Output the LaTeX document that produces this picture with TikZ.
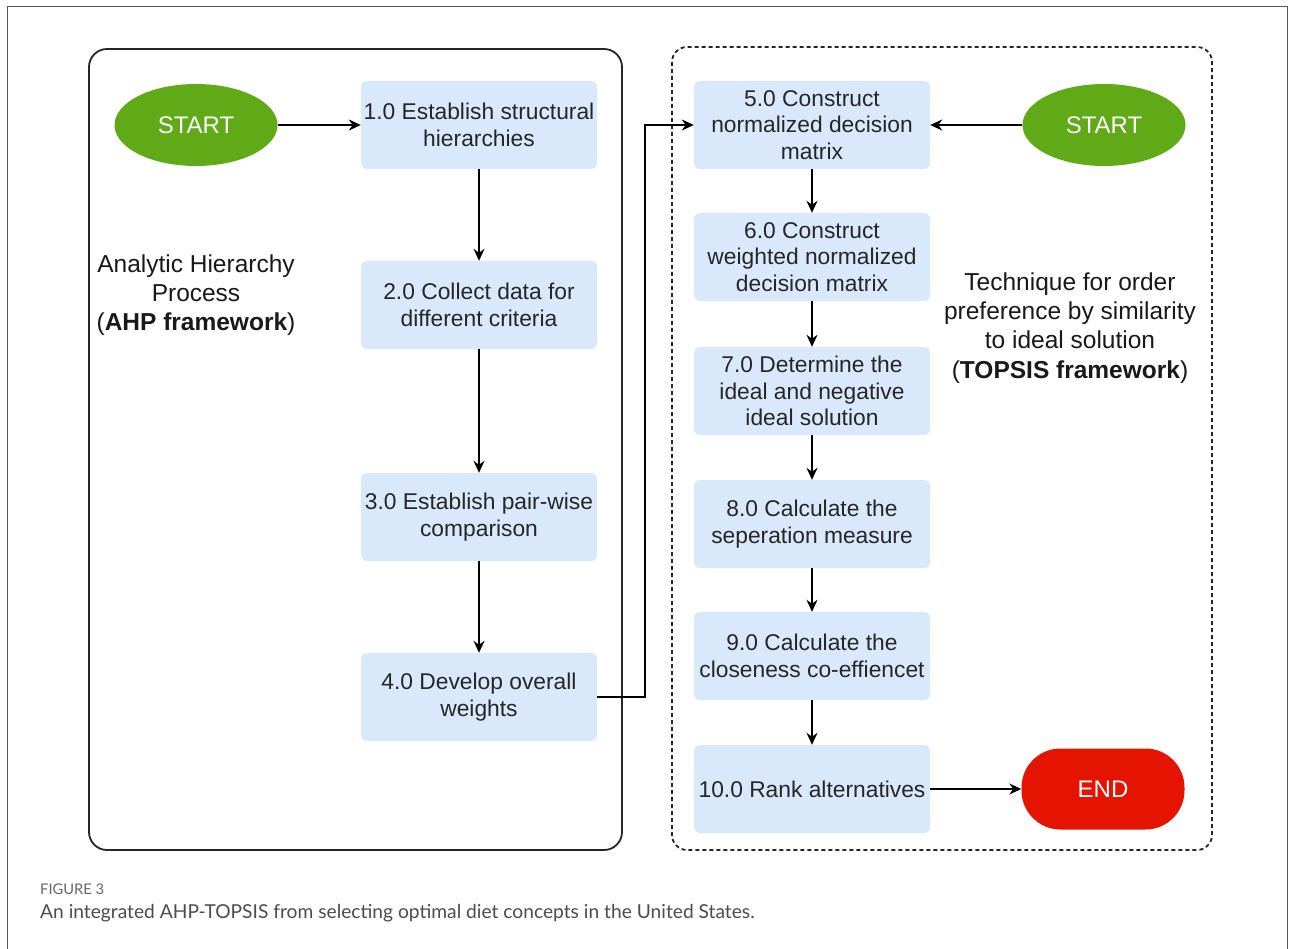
\documentclass[tikz,border=0pt]{standalone}
\usepackage{fontspec}
\setmainfont{Liberation Sans}
\newfontfamily\capfont{Lato}
\usetikzlibrary{arrows.meta,shapes.geometric}
\definecolor{boxblue}{HTML}{DAE8FC}
\definecolor{startgreen}{HTML}{60A917}
\definecolor{endred}{HTML}{E51400}
\begin{document}
\begin{tikzpicture}[x=1pt,y=-1pt,
  stepbox/.style={fill=boxblue, rounded corners=6pt, minimum width=236pt, minimum height=88pt, align=center, font=\fontsize{22.8}{26.5}\selectfont, text=black!85, inner sep=0pt},
  term/.style={ellipse, minimum width=163pt, minimum height=82pt, text=white, font=\fontsize{24}{26}\selectfont, inner sep=0pt},
  endterm/.style={rectangle, rounded corners=39pt, minimum width=163pt, minimum height=81pt, text=white, font=\fontsize{24}{26}\selectfont, inner sep=0pt},
  conn/.style={line width=1.6pt, -{Stealth[length=12pt,width=11pt]}},
  sidetext/.style={align=center, font=\fontsize{24.5}{29.3}\selectfont, text=black!90}
]
\useasboundingbox (0,0) rectangle (1292,949);
\fill[white] (0,0) rectangle (1292,949);
\draw[black!65, line width=1pt] (7,949) -- (7,7) -- (1287,7) -- (1287,949);
\draw[line width=1.8pt, rounded corners=18pt, draw=black!85] (89,49) rectangle (622,850);
\draw[line width=1.8pt, dash pattern=on 4pt off 3pt, rounded corners=15pt, draw=black!85] (672,47) rectangle (1212,850);

\node[term, fill=startgreen] (s1) at (196,125) {START};
\node[stepbox] (b1) at (479,125) {1.0 Establish structural\\hierarchies};
\node[stepbox] (b2) at (479,305) {2.0 Collect data for\\different criteria};
\node[stepbox] (b3) at (479,517) {3.0 Establish pair-wise\\comparison};
\node[stepbox] (b4) at (479,697) {4.0 Develop overall\\weights};

\node[stepbox] (b5) at (812,125) {5.0 Construct\\normalized decision\\matrix};
\node[stepbox] (b6) at (812,257) {6.0 Construct\\weighted normalized\\decision matrix};
\node[stepbox] (b7) at (812,391) {7.0 Determine the\\ideal and negative\\ideal solution};
\node[stepbox] (b8) at (812,524) {8.0 Calculate the\\seperation measure};
\node[stepbox] (b9) at (812,656) {9.0 Calculate the\\closeness co-effiencet};
\node[stepbox] (b10) at (812,789) {10.0 Rank alternatives};

\node[term, fill=startgreen] (s2) at (1104,125) {START};
\node[endterm, fill=endred] (e) at (1103,789) {END};

\coordinate (j) at (645,697);
\draw[conn] (s1) -- (b1);
\draw[conn] (b1) -- (b2);
\draw[conn] (b2) -- (b3);
\draw[conn] (b3) -- (b4);
\draw[conn] (b4.east) -- (j) |- (b5.west);
\draw[conn] (s2) -- (b5);
\draw[conn] (b5) -- (b6);
\draw[conn] (b6) -- (b7);
\draw[conn] (b7) -- (b8);
\draw[conn] (b8) -- (b9);
\draw[conn] (b9) -- (b10);
\draw[conn] (b10) -- (e);

\node[sidetext] (ahp) at (196,295) {Analytic Hierarchy\\Process\\(\textbf{AHP framework})};
\node[sidetext] (tp) at (1070,328) {Technique for order\\preference by similarity\\to ideal solution\\(\textbf{TOPSIS framework})};

\node[anchor=west, font=\capfont\fontsize{14.7}{16}\selectfont, text=black!60, inner sep=0pt] (fig) at (40,889) {FIGURE 3};
\node[anchor=west, font=\capfont\fontsize{19.2}{22}\selectfont, text=black!70, inner sep=0pt] (cap) at (40,913) {An integrated AHP-TOPSIS from selecting optimal diet concepts in the United States.};
\end{tikzpicture}
\end{document}
